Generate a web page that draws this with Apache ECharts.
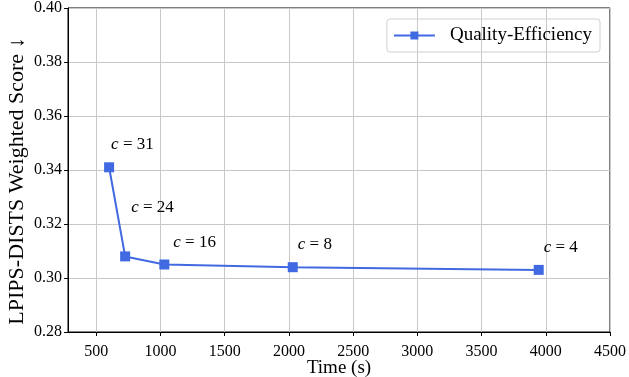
<!DOCTYPE html>
<html>
<head>
<meta charset="utf-8">
<script src="https://cdn.jsdelivr.net/npm/echarts@6/dist/echarts.min.js"></script>
<style>
  html, body { margin: 0; padding: 0; background: #fff; }
  #chart { width: 629px; height: 377px; }
</style>
</head>
<body>
<div id="chart"></div>
<script>
// data
const times = [600, 725, 1030, 2030, 3945]
const scores = [0.341, 0.308, 0.305, 0.304, 0.303]
const cValues = [31, 24, 16, 8, 4]
const xTicks = [500, 1000, 1500, 2000, 2500, 3000, 3500, 4000, 4500]

// label offsets (px, relative to the marker's top-left)
const labelPos = [[7, -18], [11, -44], [14, -17], [10, -18], [10, -17]]

const serif = 'Liberation Serif'
const blue = '#4169e1'

const chart = echarts.init(document.getElementById('chart'))

const points = times.map(function(t, i) {
  return {
    value: [t, scores[i]],
    label: {
      show: true,
      position: labelPos[i],
      align: 'left',
      verticalAlign: 'middle',
      formatter: '{c|c}{t| = ' + cValues[i] + '}',
      rich: {
        c: { fontFamily: serif, fontStyle: 'italic', fontSize: 17, color: '#000' },
        t: { fontFamily: serif, fontSize: 17, color: '#000' }
      }
    }
  }
})

chart.setOption({
  backgroundColor: '#fff',
  animation: false,
  grid: {
    left: 68,
    right: 19,
    top: 8,
    bottom: 45,
    outerBoundsMode: 'none',
    containLabel: false,
    show: true,
    borderColor: '#000',
    borderWidth: 1
  },
  legend: {
    right: 29,
    top: 19,
    padding: [7, 8, 7, 6],
    itemWidth: 41,
    itemHeight: 10,
    borderColor: '#d0d0d0',
    borderWidth: 1,
    borderRadius: 3,
    textStyle: { fontFamily: serif, fontSize: 19, color: '#000', padding: [0, 0, 0, 10] },
    data: ['Quality-Efficiency']
  },
  xAxis: {
    type: 'value',
    min: 280,
    max: 4500,
    name: 'Time (s)',
    nameLocation: 'middle',
    nameGap: 27,
    nameMoveOverlap: false,
    nameTextStyle: { fontFamily: serif, fontSize: 19, color: '#000' },
    axisLine: { show: true, lineStyle: { color: '#000', width: 1 } },
    axisTick: { show: true, length: 4, lineStyle: { color: '#000' }, customValues: xTicks },
    axisLabel: {
      fontFamily: serif, fontSize: 16, color: '#000', margin: 12,
      customValues: xTicks,
      formatter: function(v) { return String(v) }
    },
    splitLine: { show: true, lineStyle: { color: '#c8c8c8', width: 1 } }
  },
  yAxis: {
    type: 'value',
    min: 0.28,
    max: 0.40,
    interval: 0.02,
    name: 'LPIPS-DISTS Weighted Score \u2193',
    nameLocation: 'middle',
    nameGap: 40,
    nameMoveOverlap: false,
    nameTextStyle: { fontFamily: serif, fontSize: 22, color: '#000', padding: [0, 22, 0, 0] },
    axisLine: { show: true, lineStyle: { color: '#000', width: 1 } },
    axisTick: { show: true, length: 4, lineStyle: { color: '#000' } },
    axisLabel: {
      fontFamily: serif, fontSize: 16, color: '#000', margin: 6,
      formatter: function(v) { return v.toFixed(2) }
    },
    splitLine: { show: true, lineStyle: { color: '#c8c8c8', width: 1 } }
  },
  series: [{
    name: 'Quality-Efficiency',
    type: 'line',
    data: points,
    symbol: 'rect',
    symbolSize: 10,
    itemStyle: { color: blue },
    lineStyle: { color: blue, width: 2 }
  }]
})
</script>
</body>
</html>
